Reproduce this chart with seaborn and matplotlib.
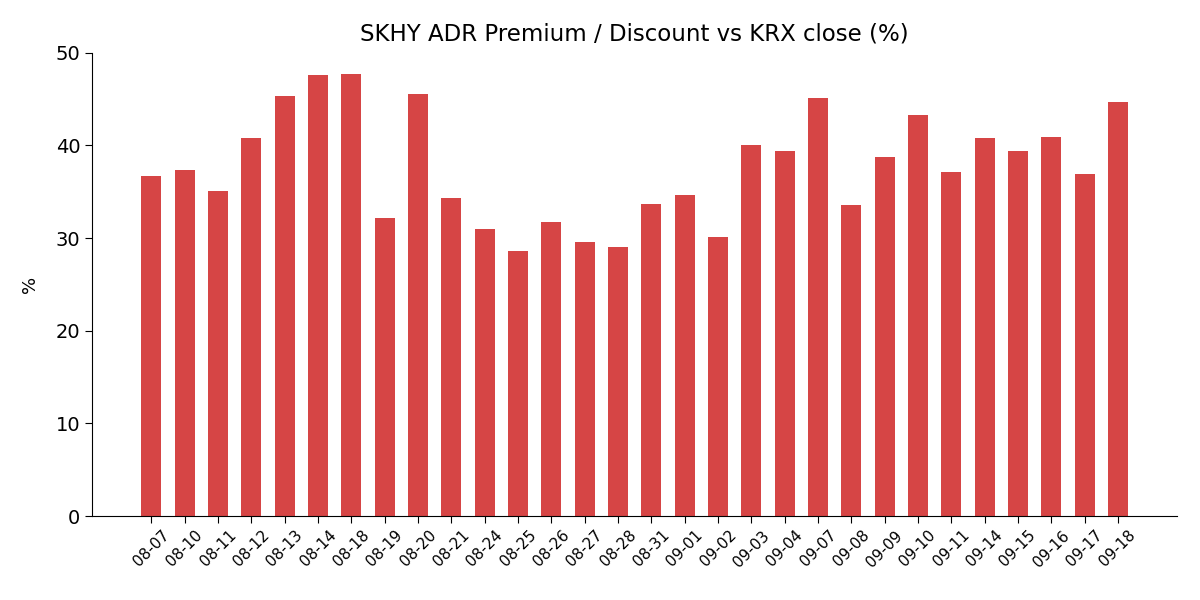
import pandas as pd
import matplotlib.pyplot as plt
import seaborn as sns

# 日期与溢价数据
dates = ['08-07', '08-10', '08-11', '08-12', '08-13', '08-14', '08-18', '08-19',
         '08-20', '08-21', '08-24', '08-25', '08-26', '08-27', '08-28', '08-31',
         '09-01', '09-02', '09-03', '09-04', '09-07', '09-08', '09-09', '09-10',
         '09-11', '09-14', '09-15', '09-16', '09-17', '09-18']
premium = [36.7, 37.3, 35.1, 40.8, 45.3, 47.6, 47.7, 32.2, 45.5, 34.3,
           31.0, 28.6, 31.75, 29.6, 29.0, 33.7, 34.6, 30.1, 40.0, 39.4,
           45.1, 33.6, 38.7, 43.3, 37.15, 40.8, 39.4, 40.9, 36.9, 44.7]

df = pd.DataFrame({'date': dates, 'premium': premium})

plt.rcParams['font.family'] = ['DejaVu Sans']

fig, ax = plt.subplots(figsize=(12, 6), dpi=100)
fig.subplots_adjust(left=0.0767, right=0.981, top=0.912, bottom=0.14)

sns.barplot(data=df, x='date', y='premium', color='#d64545', saturation=1,
            width=0.6, linewidth=0, ax=ax)

# 恢复 matplotlib 默认的边距
n = len(dates)
pad = 0.05 * (n - 1 + 0.6)
ax.set_xlim(-0.3 - pad, n - 1 + 0.3 + pad)
ax.set_ylim(0, 50)

ax.set_title('SKHY ADR Premium / Discount vs KRX close (%)', fontsize=16.5, pad=9)
ax.set_xlabel('')
ax.set_ylabel('%', fontsize=13, labelpad=12)
ax.tick_params(axis='y', labelsize=14, length=5)
ax.tick_params(axis='x', labelsize=11, length=5, rotation=45)
sns.despine(ax=ax)

plt.savefig('out.png')
